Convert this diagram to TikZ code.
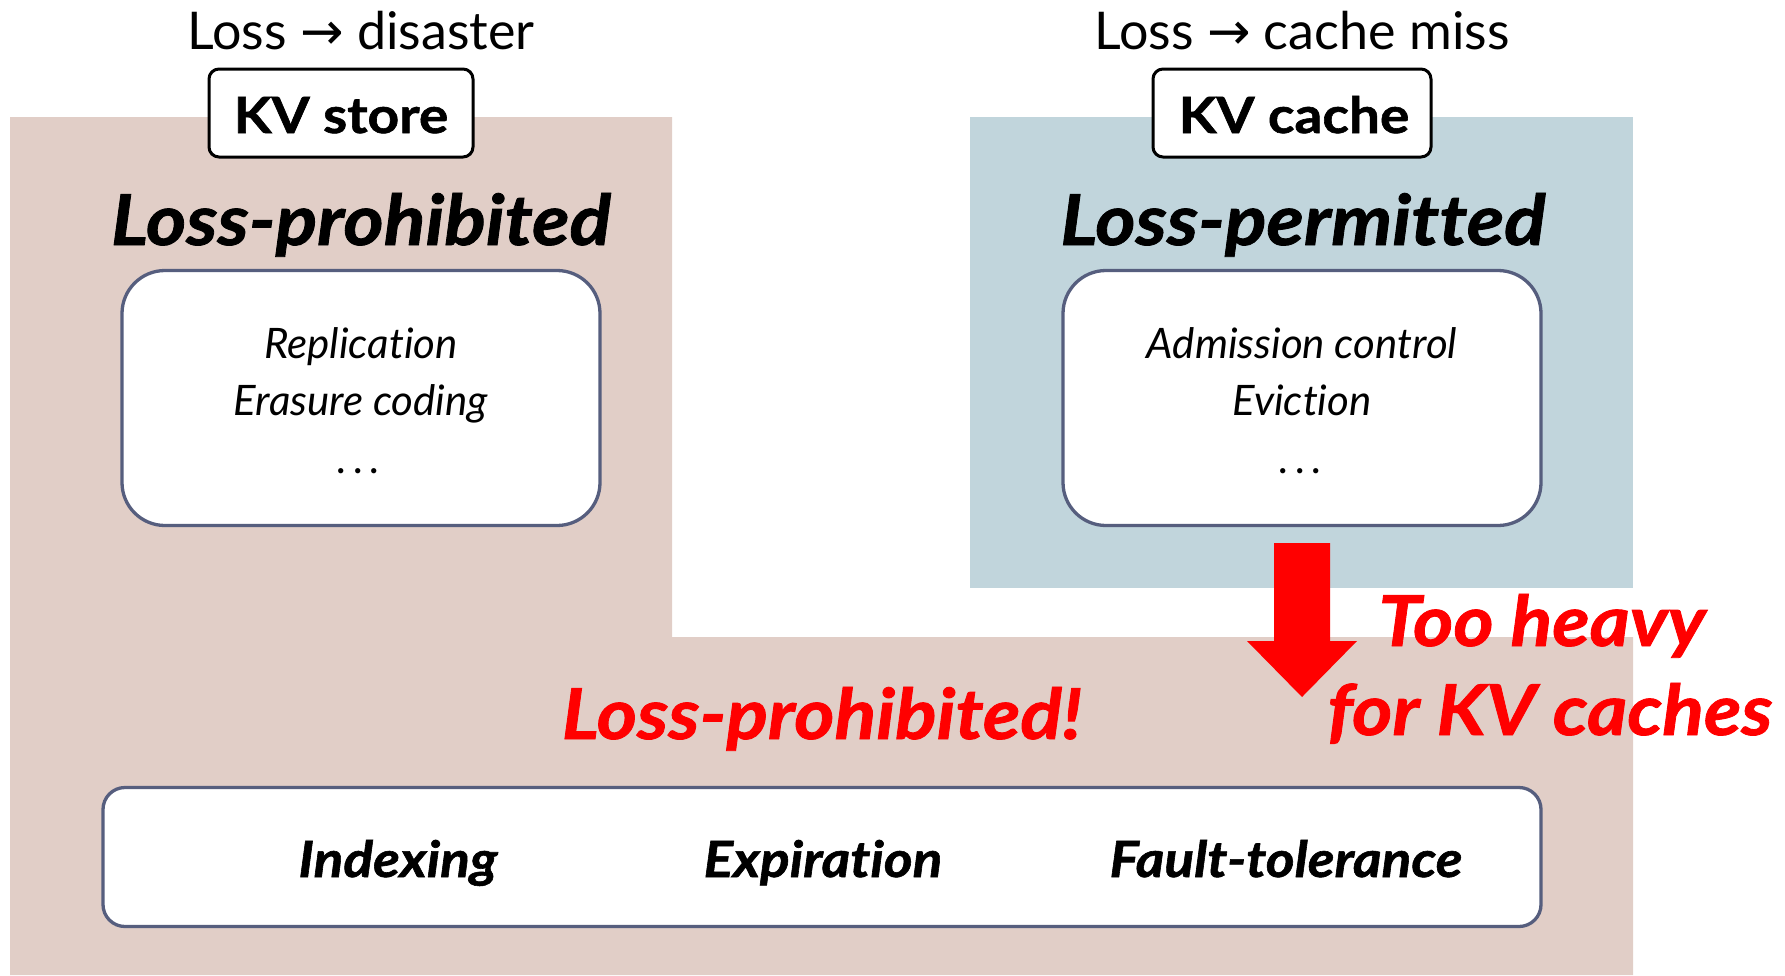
\documentclass[tikz,border=0pt]{standalone}
\usepackage{fontspec}
\setmainfont{Lato}[Ligatures=NoCommon]
\newfontfamily\heavyface[FakeStretch=1.1, FakeBold=1.2, Ligatures=NoCommon]{Lato}
\newfontfamily\arrowfont{DejaVu Sans}

\definecolor{storebg}{HTML}{E1CEC7}
\definecolor{cachebg}{HTML}{C1D5DC}
\definecolor{panelline}{HTML}{565E7E}
\definecolor{alert}{HTML}{FF0000}

\newcommand{\spaceddots}{.\kern7pt.\kern7pt.}

\tikzset{
  kvbox/.style={draw=black, line width=3pt, rounded corners=10pt, fill=white,
                minimum width=264pt, minimum height=88pt, inner sep=0pt},
  panel/.style={draw=panelline, line width=3.3pt, fill=white, inner sep=0pt},
  toplabel/.style={anchor=base, inner sep=0pt, font=\fontsize{52}{60}\selectfont},
  kvlabel/.style={anchor=base, inner sep=0pt, font=\fontsize{50}{60}\selectfont\heavyface\bfseries},
  heading/.style={anchor=base, inner sep=0pt, font=\fontsize{70}{84}\selectfont\heavyface\bfseries\itshape},
  item/.style={anchor=base, inner sep=0pt, font=\fontsize{42}{50}\selectfont\itshape},
  feature/.style={anchor=base, inner sep=0pt, font=\fontsize{50}{60}\selectfont\heavyface\bfseries\itshape},
  warn/.style={heading, text=alert},
}

\begin{document}
\begin{tikzpicture}[x=1pt, y=-1pt]
  \useasboundingbox (0,0) rectangle (1785,975);

  % background regions
  \fill[storebg] (10,117) -- (672,117) -- (672,637) -- (1633,637)
                 -- (1633,975) -- (10,975) -- cycle;
  \fill[cachebg] (970,117) rectangle (1633,588);

  % left column: KV store
  \node[toplabel] (storeloss) at (361,49) {Loss {\arrowfont →} disaster};
  \node[kvbox] (storebox) at (341,113) {};
  \node[kvlabel] (storename) at (341,133) {KV store};
  \node[heading] (storehead) at (361,245) {Loss-prohibited};
  \node[panel, rounded corners=43pt, minimum width=478pt, minimum height=255pt]
       (storepanel) at (361,398) {};
  \node[item] (repl) at (361,358) {Replication};
  \node[item] (erasure) at (361,415) {Erasure coding};
  \node[item] (storemore) at (359,473) {\spaceddots};

  % right column: KV cache
  \node[toplabel] (cacheloss) at (1302,49) {Loss {\arrowfont →} cache miss};
  \node[kvbox, minimum width=278pt] (cachebox) at (1292,113) {};
  \node[kvlabel] (cachename) at (1294,133) {KV cache};
  \node[heading] (cachehead) at (1303,245) {Loss-permitted};
  \node[panel, rounded corners=43pt, minimum width=478pt, minimum height=255pt]
       (cachepanel) at (1302,398) {};
  \node[item] (admission) at (1302,358) {Admission control};
  \node[item] (eviction) at (1302,415) {Eviction};
  \node[item] (cachemore) at (1301,473) {\spaceddots};

  % block arrow down from the cache side
  \fill[alert] (1274,543) -- (1330,543) -- (1330,641) -- (1357,641)
               -- (1302,697) -- (1247,641) -- (1274,641) -- cycle;

  % warnings
  \node[warn] (heavy1) at (1542,646) {Too heavy};
  \node[warn] (heavy2) at (1550,735) {for KV caches};
  \node[warn] (mustkeep) at (822,739) {Loss-prohibited!};

  % shared features
  \node[panel, rounded corners=22pt, minimum width=1438pt, minimum height=139pt]
       (features) at (822,857) {};
  \node[feature] (indexing) at (398,877) {Indexing};
  \node[feature] (expiration) at (823,877) {Expiration};
  \node[feature] (faulttol) at (1286,877) {Fault-tolerance};
\end{tikzpicture}
\end{document}
